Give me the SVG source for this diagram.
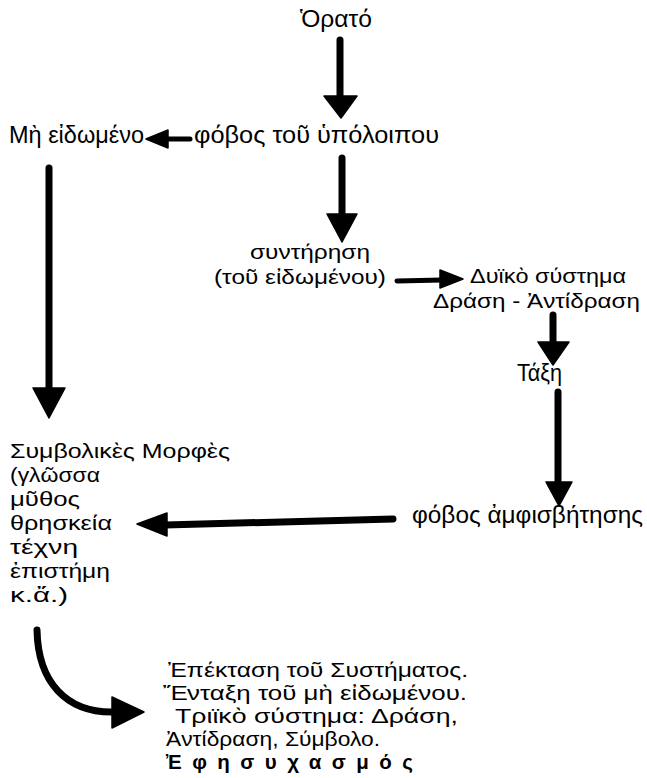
<svg xmlns="http://www.w3.org/2000/svg" width="647" height="778" viewBox="0 0 647 778">
<style>
.t{font-family:"Liberation Sans","DejaVu Sans",Arial,sans-serif;font-size:23px;fill:#000}
.s{font-size:21px}
.m{font-size:20.5px}
.b{font-weight:bold}
.shaft{stroke:#000;stroke-width:7;stroke-linecap:round;fill:none}
.thin{stroke-width:5}
.head{fill:#000;stroke:#000;stroke-width:1.5;stroke-linejoin:round}
</style>
<rect width="647" height="778" fill="#fff"/>
<g id="connectors">
  <line class="shaft" x1="340" y1="40" x2="340" y2="98"/>
  <polygon class="head" points="324,96 357,96 341,118"/>
  <line class="shaft thin" x1="190" y1="139" x2="165" y2="139"/>
  <polygon class="head" points="168,130 168,148 146,139"/>
  <line class="shaft" x1="342" y1="158" x2="342" y2="216"/>
  <polygon class="head" points="327,214 357,214 342,242"/>
  <line class="shaft thin" x1="397" y1="281" x2="442" y2="280"/>
  <polygon class="head" points="440,270 440,288 463,279"/>
  <line class="shaft" x1="553" y1="315" x2="553" y2="344"/>
  <polygon class="head" points="538,342 569,342 553,365"/>
  <line class="shaft" x1="558" y1="392" x2="558" y2="484"/>
  <polygon class="head" points="546,482 572,482 559,506"/>
  <line class="shaft" x1="393" y1="519" x2="165" y2="525"/>
  <polygon class="head" points="167,513 167,536 137,524"/>
  <line class="shaft" x1="49" y1="168" x2="49" y2="390"/>
  <polygon class="head" points="33,388 65,388 49,418"/>
  <path class="shaft" d="M37,630 C38,682 66,713 114,712"/>
  <polygon class="head" points="112,697 144,712 112,728"/>
</g>
<g id="orato"><text class="t" x="300" y="27" textLength="72" lengthAdjust="spacingAndGlyphs">Ὁρατό</text></g>
<g id="fovos-ypoloipou"><text class="t" x="194" y="143" textLength="245" lengthAdjust="spacingAndGlyphs">φόβος τοῦ ὑπόλοιπου</text></g>
<g id="mi-eidomeno"><text class="t" x="9" y="143" textLength="135" lengthAdjust="spacingAndGlyphs">Μὴ εἰδωμένο</text></g>
<g id="syntirisi">
  <text class="t s" x="250" y="259" textLength="120" lengthAdjust="spacingAndGlyphs">συντήρηση</text>
  <text class="t s" x="214" y="284" textLength="172" lengthAdjust="spacingAndGlyphs">(τοῦ εἰδωμένου)</text>
</g>
<g id="dyiko">
  <text class="t s" x="470" y="283" textLength="156" lengthAdjust="spacingAndGlyphs">Δυϊκὸ σύστημα</text>
  <text class="t s" x="433" y="308" textLength="207" lengthAdjust="spacingAndGlyphs">Δράση - Ἀντίδραση</text>
</g>
<g id="taxi"><text class="t" x="517" y="381" textLength="45" lengthAdjust="spacingAndGlyphs">Τάξη</text></g>
<g id="fovos-amfisvitisis"><text class="t" x="412" y="523" textLength="231" lengthAdjust="spacingAndGlyphs">φόβος ἀμφισβήτησης</text></g>
<g id="symvolikes">
  <text class="t s" x="10" y="458" textLength="220" lengthAdjust="spacingAndGlyphs">Συμβολικὲς Μορφὲς</text>
  <text class="t s" x="10" y="482" textLength="90" lengthAdjust="spacingAndGlyphs">(γλῶσσα</text>
  <text class="t s" x="10" y="506" textLength="70" lengthAdjust="spacingAndGlyphs">μῦθος</text>
  <text class="t s" x="10" y="530" textLength="102" lengthAdjust="spacingAndGlyphs">θρησκεία</text>
  <text class="t s" x="10" y="554" textLength="68" lengthAdjust="spacingAndGlyphs">τέχνη</text>
  <text class="t s" x="10" y="578" textLength="100" lengthAdjust="spacingAndGlyphs">ἐπιστήμη</text>
  <text class="t s" x="10" y="602" textLength="58" lengthAdjust="spacingAndGlyphs">κ.ἄ.)</text>
</g>
<g id="epektasi">
  <text class="t m" x="168" y="677" textLength="300" lengthAdjust="spacingAndGlyphs">Ἐπέκταση τοῦ Συστήματος.</text>
  <text class="t m" x="163" y="700" textLength="304" lengthAdjust="spacingAndGlyphs">Ἔνταξη τοῦ μὴ εἰδωμένου.</text>
  <text class="t m" x="175" y="723" textLength="283" lengthAdjust="spacingAndGlyphs">Τριϊκὸ σύστημα: Δράση,</text>
  <text class="t m" x="166" y="746" textLength="214" lengthAdjust="spacingAndGlyphs">Ἀντίδραση, Σύμβολο.</text>
  <text class="t m b" x="166" y="769" textLength="247" lengthAdjust="spacing">Ἐφησυχασμός</text>
</g>
</svg>
